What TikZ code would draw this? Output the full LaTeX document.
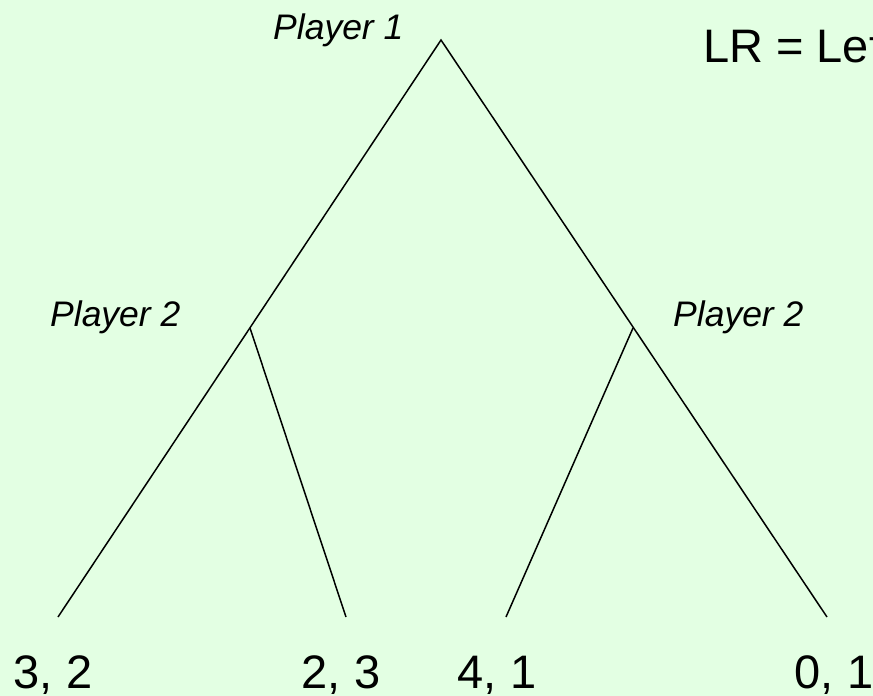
\documentclass[tikz,border=0pt]{standalone}
\usepackage{fontspec}
\setmainfont{Liberation Sans}
\definecolor{bgreen}{RGB}{227,255,227}

\tikzset{
  branch/.style={line width=1.5pt},
  player/.style={inner sep=0pt, font=\fontsize{35.5}{42}\selectfont\itshape},
  payoff/.style={inner sep=0pt, anchor=base, font=\fontsize{47}{56}\selectfont},
}

\begin{document}
\begin{tikzpicture}[x=1pt,y=-1pt]
      \useasboundingbox (0,0) rectangle (873,696);
      \clip (0,0) rectangle (873,696);
      \fill[bgreen] (0,0) rectangle (873,696);

      \coordinate (root) at (441,40);
      \coordinate (left) at (250,328);
      \coordinate (right) at (633,328);
      \coordinate (ll) at (58,617);
      \coordinate (lr) at (346,617);
      \coordinate (rl) at (506,617);
      \coordinate (rr) at (827,617);

      \draw[branch] (ll) -- (root) -- (rr);
      \draw[branch] (left) -- (lr);
      \draw[branch] (right) -- (rl);

      \node[player, anchor=base west] (p1) at (273,39) {Player 1};
      \node[player, anchor=base west] (p2l) at (50,326) {Player 2};
      \node[player, anchor=base west] (p2r) at (673,326) {Player 2};

      \node[payoff] (o1) at (53,688) {3, 2};
      \node[payoff] (o2) at (341,688) {2, 3};
      \node[payoff] (o3) at (497,688) {4, 1};
      \node[payoff] (o4) at (834,688) {0, 1};

      \node[payoff, anchor=base west] (key) at (703,62) {LR = Left};
\end{tikzpicture}
\end{document}
